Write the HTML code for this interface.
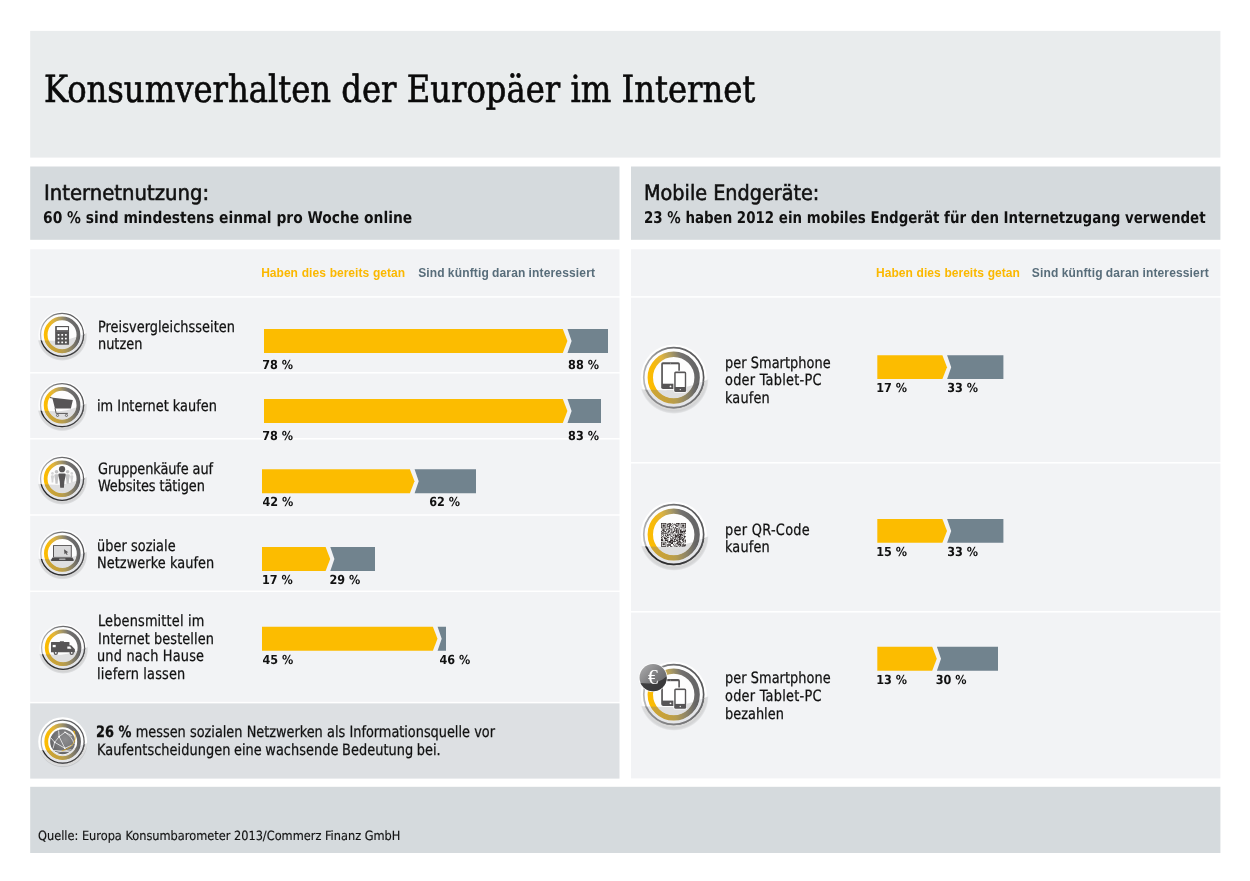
<!DOCTYPE html>
<html lang="de">
<head>
<meta charset="utf-8">
<title>Konsumverhalten der Europäer im Internet</title>
<style>
html,body{margin:0;padding:0;background:#fff}
body{width:1250px;height:881px;position:relative;overflow:hidden;font-family:"Liberation Sans", sans-serif}
.t{position:absolute;white-space:nowrap;line-height:40px;height:40px;margin:0;transform-origin:0 0;text-rendering:geometricPrecision}
.dsc{font-family:"DejaVu Sans Condensed","DejaVu Sans",sans-serif;font-stretch:condensed}
.dse{font-family:"DejaVu Serif Condensed","DejaVu Serif",serif;font-stretch:condensed}
.ser{font-family:"Liberation Serif", serif}
.h{text-rendering:auto}
svg{position:absolute;left:0;top:0}
</style>
</head>
<body>
<svg width="1250" height="881" viewBox="0 0 1250 881" >
<rect x="30.2" y="30.9" width="1190.2" height="126.7" fill="#e9eced"/>
<rect x="30.2" y="166.5" width="589.3" height="73.3" fill="#d5dadd"/>
<rect x="631.0" y="166.5" width="589.4" height="73.3" fill="#d5dadd"/>
<rect x="30.2" y="249.3" width="589.3" height="46.85" fill="#f2f3f5"/>
<rect x="30.2" y="297.65" width="589.3" height="74.4" fill="#f2f3f5"/>
<rect x="30.2" y="373.55" width="589.3" height="64.5" fill="#f2f3f5"/>
<rect x="30.2" y="439.55" width="589.3" height="74.7" fill="#f2f3f5"/>
<rect x="30.2" y="515.75" width="589.3" height="74.8" fill="#f2f3f5"/>
<rect x="30.2" y="592.05" width="589.3" height="109.8" fill="#f2f3f5"/>
<rect x="30.2" y="703.35" width="589.3" height="75.25" fill="#dde0e3"/>
<rect x="631.0" y="249.3" width="589.4" height="46.85" fill="#f2f3f5"/>
<rect x="631.0" y="297.65" width="589.4" height="164.4" fill="#f2f3f5"/>
<rect x="631.0" y="463.55" width="589.4" height="147.5" fill="#f2f3f5"/>
<rect x="631.0" y="612.55" width="589.4" height="165.85" fill="#f2f3f5"/>
<rect x="30.2" y="786.8" width="1190.2" height="66.2" fill="#d5dadd"/>
<path d="M567.5,329H608V352.9H567.5L571.6,340.95Z" fill="#71838e"/><path d="M264,329H562.8L567.4,340.95L562.8,352.9H264Z" fill="#fcbc00"/>
<path d="M567.5,399H601V422.9H567.5L571.6,410.95Z" fill="#71838e"/><path d="M264,399H562.8L567.4,410.95L562.8,422.9H264Z" fill="#fcbc00"/>
<path d="M414.6,469.2H476V493.3H414.6L418.7,481.25Z" fill="#71838e"/><path d="M262,469.2H409.9L414.5,481.25L409.9,493.3H262Z" fill="#fcbc00"/>
<path d="M330.3,547.1H375V570.9H330.3L334.4,559Z" fill="#71838e"/><path d="M262,547.1H325.6L330.2,559L325.6,570.9H262Z" fill="#fcbc00"/>
<path d="M437.6,626.8H446V650.8H437.6L441.7,638.8Z" fill="#71838e"/><path d="M262,626.8H432.9L437.5,638.8L432.9,650.8H262Z" fill="#fcbc00"/>
<path d="M947.1,355.3H1003.4V379H947.1L951.2,367.15Z" fill="#71838e"/><path d="M877.3,355.3H942.4L947,367.15L942.4,379H877.3Z" fill="#fcbc00"/>
<path d="M947.1,519H1003.4V542.8H947.1L951.2,530.9Z" fill="#71838e"/><path d="M877.3,519H942.4L947,530.9L942.4,542.8H877.3Z" fill="#fcbc00"/>
<path d="M936.9,646.7H998V670.7H936.9L941,658.7Z" fill="#71838e"/><path d="M877.3,646.7H932.2L936.8,658.7L932.2,670.7H877.3Z" fill="#fcbc00"/>
<defs>
<linearGradient id="gR" gradientUnits="userSpaceOnUse" x1="-18" y1="5" x2="16" y2="-5">
<stop offset="0" stop-color="#fdbc00"/><stop offset="0.2" stop-color="#f8ba08"/><stop offset="0.4" stop-color="#e0b43c"/><stop offset="0.6" stop-color="#ad9c62"/><stop offset="0.8" stop-color="#747270"/><stop offset="1" stop-color="#666667"/>
</linearGradient>
<linearGradient id="gT" gradientUnits="userSpaceOnUse" x1="-20" y1="6" x2="20" y2="-6">
<stop offset="0" stop-color="#b4b5b6"/><stop offset="0.3" stop-color="#949596"/><stop offset="0.6" stop-color="#707072"/><stop offset="1" stop-color="#58585a"/>
</linearGradient>
<linearGradient id="gL" gradientUnits="userSpaceOnUse" x1="-18" y1="0" x2="18" y2="0">
<stop offset="0" stop-color="#cda533"/><stop offset="0.35" stop-color="#c6a13b"/><stop offset="0.55" stop-color="#b59c50"/><stop offset="0.75" stop-color="#8e8567"/><stop offset="0.92" stop-color="#6a6968"/><stop offset="1" stop-color="#5e5e5f"/>
</linearGradient>
<radialGradient id="gS" gradientUnits="userSpaceOnUse" cx="0.2" cy="1.1" r="25">
<stop offset="0" stop-color="#000" stop-opacity="0.15"/><stop offset="0.9" stop-color="#000" stop-opacity="0.15"/><stop offset="0.96" stop-color="#000" stop-opacity="0.09"/><stop offset="1" stop-color="#000" stop-opacity="0"/>
</radialGradient>
<linearGradient id="gM" gradientUnits="userSpaceOnUse" x1="-20" y1="0" x2="20" y2="0">
<stop offset="0" stop-color="#8c8c8e"/><stop offset="0.6" stop-color="#7c7c7e"/><stop offset="1" stop-color="#6a6a6c"/>
</linearGradient>
<linearGradient id="gD" gradientUnits="userSpaceOnUse" x1="-20" y1="0" x2="20" y2="0">
<stop offset="0" stop-color="#262628"/><stop offset="0.6" stop-color="#333335"/><stop offset="1" stop-color="#4c4c4e"/>
</linearGradient>
<radialGradient id="gG" cx="0.6" cy="0.4" r="0.7">
<stop offset="0" stop-color="#8d8d8f"/><stop offset="0.5" stop-color="#7a7a7c"/><stop offset="1" stop-color="#5e5e60"/>
</radialGradient>
<linearGradient id="gE" x1="0" y1="0" x2="1" y2="1">
<stop offset="0" stop-color="#b0b0b1"/><stop offset="0.5" stop-color="#7d7d7f"/><stop offset="1" stop-color="#58585a"/>
</linearGradient>
<clipPath id="cS"><circle cx="0.2" cy="1" r="24.6"/></clipPath>
<clipPath id="cE"><circle cx="0" cy="0" r="13.6"/></clipPath>
<clipPath id="w0"><path d="M-27,5.3 L-6,6.0 C4,6.0 11,3.6 27,-2.5 L27,30 L-27,30 Z"/></clipPath><clipPath id="w10"><path d="M-27,6.3 L-6,7.0 C4,7.0 11,4.6 27,-1.5 L27,30 L-27,30 Z"/></clipPath><clipPath id="w30"><path d="M-27,8.3 L-6,9.0 C4,9.0 11,6.6 27,0.5 L27,30 L-27,30 Z"/></clipPath>
</defs>
<g transform="translate(62.05,334.85)">
<g transform="scale(1.0000)">
<circle r="23.7" fill="#fff" opacity="0.75"/>
<g clip-path="url(#w0)"><circle cx="0.2" cy="1.1" r="25" fill="url(#gS)"/></g>
<circle r="21.8" fill="#fdfdfd"/>
<circle r="16.4" fill="none" stroke="url(#gR)" stroke-width="3.8"/>
<circle r="21.5" fill="none" stroke="url(#gT)" stroke-width="1.25"/>
<g clip-path="url(#w0)"><circle r="14.80" fill="#dfdfe0"/>
<circle r="19.90" fill="none" stroke="#e4e5e8" stroke-width="3.60"/>
<circle r="16.4" fill="none" stroke="url(#gL)" stroke-width="3.8"/>
<circle r="21.5" fill="none" stroke="url(#gD)" stroke-width="1.3"/></g>
</g>
<rect x="-6.9" y="-8.9" width="13.9" height="18.9" rx="0.6" fill="#575556"/><rect x="-5.2" y="-7.7" width="11.1" height="3" fill="#fff"/><rect x="-6.9" y="-3.9" width="13.9" height="0.7" fill="#6e6c6d"/><rect x="-4.40" y="-0.90" width="1.8" height="1.8" rx="0.4" fill="#fff"/><rect x="-0.75" y="-0.90" width="1.8" height="1.8" rx="0.4" fill="#fff"/><rect x="2.90" y="-0.90" width="1.8" height="1.8" rx="0.4" fill="#fff"/><rect x="-4.40" y="2.85" width="1.8" height="1.8" rx="0.4" fill="#fff"/><rect x="-0.75" y="2.85" width="1.8" height="1.8" rx="0.4" fill="#fff"/><rect x="2.90" y="2.85" width="1.8" height="1.8" rx="0.4" fill="#fff"/><rect x="-4.40" y="6.60" width="1.8" height="1.8" rx="0.4" fill="#fff"/><rect x="-0.75" y="6.60" width="1.8" height="1.8" rx="0.4" fill="#fff"/><rect x="2.90" y="6.60" width="1.8" height="1.8" rx="0.4" fill="#fff"/>
</g>
<g transform="translate(62.05,405.2)">
<g transform="scale(1.0000)">
<circle r="23.7" fill="#fff" opacity="0.75"/>
<g clip-path="url(#w0)"><circle cx="0.2" cy="1.1" r="25" fill="url(#gS)"/></g>
<circle r="21.8" fill="#fdfdfd"/>
<circle r="16.4" fill="none" stroke="url(#gR)" stroke-width="3.8"/>
<circle r="21.5" fill="none" stroke="url(#gT)" stroke-width="1.25"/>
<g clip-path="url(#w0)"><circle r="14.80" fill="#dfdfe0"/>
<circle r="19.90" fill="none" stroke="#e4e5e8" stroke-width="3.60"/>
<circle r="16.4" fill="none" stroke="url(#gL)" stroke-width="3.8"/>
<circle r="21.5" fill="none" stroke="url(#gD)" stroke-width="1.3"/></g>
</g>
<path d="M-12,-8.2 L-9,-7.5 L10.8,-5.1 L8.8,3.2 L-7.1,3.2 L-9.6,-6.6 L-12.2,-7.2 Z" fill="#575556"/><path d="M-7.0,3.0 L-5.9,8.2 L5.8,8.2" fill="none" stroke="#575556" stroke-width="1"/><circle cx="-4.5" cy="10.2" r="1.1" fill="none" stroke="#575556" stroke-width="0.8"/><circle cx="4.4" cy="10.2" r="1.1" fill="none" stroke="#575556" stroke-width="0.8"/>
</g>
<g transform="translate(62.05,478.8)">
<g transform="scale(1.0000)">
<circle r="23.7" fill="#fff" opacity="0.75"/>
<g clip-path="url(#w0)"><circle cx="0.2" cy="1.1" r="25" fill="url(#gS)"/></g>
<circle r="21.8" fill="#fdfdfd"/>
<circle r="16.4" fill="none" stroke="url(#gR)" stroke-width="3.8"/>
<circle r="21.5" fill="none" stroke="url(#gT)" stroke-width="1.25"/>
<g clip-path="url(#w0)"><circle r="14.80" fill="#dfdfe0"/>
<circle r="19.90" fill="none" stroke="#e4e5e8" stroke-width="3.60"/>
<circle r="16.4" fill="none" stroke="url(#gL)" stroke-width="3.8"/>
<circle r="21.5" fill="none" stroke="url(#gD)" stroke-width="1.3"/></g>
</g>
<circle cx="-9.6" cy="-5.4" r="1.3" fill="#d4d4d5"/><path d="M-11.2,-2.4000000000000004 Q-11.2,-3.6 -10.0,-3.6 L-9.2,-3.6 Q-8.0,-3.6 -8.0,-2.4000000000000004 L-8.608,1.0 L-8.799999999999999,3.6 L-10.4,3.6 L-10.591999999999999,1.0 Z" fill="#d4d4d5"/><circle cx="9.7" cy="-5.4" r="1.3" fill="#d4d4d5"/><path d="M8.1,-2.4000000000000004 Q8.1,-3.6 9.299999999999999,-3.6 L10.1,-3.6 Q11.299999999999999,-3.6 11.299999999999999,-2.4000000000000004 L10.692,1.0 L10.5,3.6 L8.899999999999999,3.6 L8.707999999999998,1.0 Z" fill="#d4d4d5"/><circle cx="-5.5" cy="-7.0" r="1.8" fill="#c4c4c5"/><path d="M-7.7,-3.3999999999999995 Q-7.7,-4.6 -6.5,-4.6 L-4.5,-4.6 Q-3.3,-4.6 -3.3,-3.3999999999999995 L-4.136,1.2000000000000002 L-4.4,5.0 L-6.6,5.0 L-6.864,1.2000000000000002 Z" fill="#c4c4c5"/><circle cx="5.6" cy="-7.0" r="1.8" fill="#c4c4c5"/><path d="M3.3999999999999995,-3.3999999999999995 Q3.3999999999999995,-4.6 4.6,-4.6 L6.6,-4.6 Q7.8,-4.6 7.8,-3.3999999999999995 L6.9639999999999995,1.2000000000000002 L6.699999999999999,5.0 L4.5,5.0 L4.236,1.2000000000000002 Z" fill="#c4c4c5"/><circle cx="0" cy="-9.6" r="3.1" fill="#575556"/><path d="M-3.7,-4.0 Q-3.7,-5.2 -2.5,-5.2 L2.5,-5.2 Q3.7,-5.2 3.7,-4.0 L2.294,2.85 L1.85,8.9 L-1.85,8.9 L-2.294,2.85 Z" fill="#575556"/>
</g>
<g transform="translate(62.3,553.5)">
<g transform="scale(1.0000)">
<circle r="23.7" fill="#fff" opacity="0.75"/>
<g clip-path="url(#w0)"><circle cx="0.2" cy="1.1" r="25" fill="url(#gS)"/></g>
<circle r="21.8" fill="#fdfdfd"/>
<circle r="16.4" fill="none" stroke="url(#gR)" stroke-width="3.8"/>
<circle r="21.5" fill="none" stroke="url(#gT)" stroke-width="1.25"/>
<g clip-path="url(#w0)"><circle r="14.80" fill="#dfdfe0"/>
<circle r="19.90" fill="none" stroke="#e4e5e8" stroke-width="3.60"/>
<circle r="16.4" fill="none" stroke="url(#gL)" stroke-width="3.8"/>
<circle r="21.5" fill="none" stroke="url(#gD)" stroke-width="1.3"/></g>
</g>
<rect x="-9.3" y="-8.5" width="18.8" height="12.6" rx="0.5" fill="#575556"/><rect x="-8.3" y="-7.6" width="16.8" height="11" fill="#d9d9da"/><path d="M-9.8,4.1 L10.0,4.1 L11.6,6.6 Q11.6,7.5 10.6,7.5 L-10.4,7.5 Q-11.4,7.5 -11.4,6.6 Z" fill="#4d4b4c"/><rect x="-3.2" y="5.0" width="6.4" height="1.4" rx="0.5" fill="#a9a9aa"/><path d="M1.7,-4.2 L6.0,-1.2 L4.2,-0.8 L5.4,1.0 L4.5,1.5 L3.4,-0.3 L2.2,0.8 Z" fill="#575556"/>
</g>
<g transform="translate(63.1,647.8)">
<g transform="scale(1.0000)">
<circle r="23.7" fill="#fff" opacity="0.75"/>
<g clip-path="url(#w10)"><circle cx="0.2" cy="1.1" r="25" fill="url(#gS)"/></g>
<circle r="21.8" fill="#fdfdfd"/>
<circle r="16.4" fill="none" stroke="url(#gR)" stroke-width="3.8"/>
<circle r="21.5" fill="none" stroke="url(#gT)" stroke-width="1.25"/>
<g clip-path="url(#w10)"><circle r="14.80" fill="#dfdfe0"/>
<circle r="19.90" fill="none" stroke="#e4e5e8" stroke-width="3.60"/>
<circle r="16.4" fill="none" stroke="url(#gL)" stroke-width="3.8"/>
<circle r="21.5" fill="none" stroke="url(#gD)" stroke-width="1.3"/></g>
</g>
<path d="M-12.1,-5.2 Q-12.1,-5.8 -11.5,-5.8 L-3.4,-5.8 L-3.0,-6.6 L0.6,-6.6 L1.0,-5.8 L5.8,-5.8 Q6.4,-5.8 6.4,-5.2 L6.4,-2.6 L8.0,-2.6 L11.8,1.4 L11.8,4.4 L-12.1,4.4 Z" fill="#575556"/><rect x="-10.4" y="-2.9" width="3.0" height="2.3" fill="#fff"/><path d="M4.2,-1.3 L7.0,-1.3 L8.4,0.9 L4.2,0.9 Z" fill="#fff"/><circle cx="-7.3" cy="5.0" r="2.2" fill="#575556"/><circle cx="-7.3" cy="5.0" r="0.9" fill="#fff"/><circle cx="8.6" cy="5.0" r="2.2" fill="#575556"/><circle cx="8.6" cy="5.0" r="0.9" fill="#fff"/>
</g>
<g transform="translate(62.65,741.65)">
<g transform="scale(1.0000)">
<circle r="24.4" fill="#fff" opacity="1.0"/>
<g clip-path="url(#w30)"><circle cx="0.2" cy="1.1" r="25" fill="url(#gS)"/></g>
<circle r="21.8" fill="#fdfdfd"/>
<circle r="16.4" fill="none" stroke="url(#gR)" stroke-width="3.8"/>
<circle r="21.5" fill="none" stroke="url(#gT)" stroke-width="1.25"/>
<g clip-path="url(#w30)"><circle r="14.80" fill="#dfdfe0"/>
<circle r="19.90" fill="none" stroke="#e4e5e8" stroke-width="3.60"/>
<circle r="16.4" fill="none" stroke="url(#gL)" stroke-width="3.8"/>
<circle r="21.5" fill="none" stroke="url(#gD)" stroke-width="1.3"/></g>
</g>
<circle r="13.2" fill="#fff"/><circle r="12.5" fill="url(#gG)"/><g fill="none" stroke="#fff" stroke-width="0.75" stroke-linecap="round" opacity="0.95"><path d="M-4.0,-10.8 L-3.5,-5.0 L-8.0,0.6 L-9.5,6.5"/><path d="M-3.5,-5.0 L2.4,-9.4 L8.8,-6.0"/><path d="M-3.5,-5.0 L2.2,6.6 L-8.0,0.6 L-11.5,-3.5"/><path d="M2.2,6.6 L9.5,3.5"/><path d="M-8.5,8.8 Q0,10.5 8.5,8.2"/><path d="M-6.5,10.6 Q1,8.6 7.0,10.0"/><path d="M2.4,-9.4 Q9.5,-5 11.5,2"/></g><g fill="#fff"><circle cx="-3.5" cy="-5.0" r="0.8"/><circle cx="-8.0" cy="0.6" r="0.8"/><circle cx="2.2" cy="6.6" r="0.8"/><circle cx="2.4" cy="-9.4" r="0.7"/></g><path d="M11.2,-10.6 Q15.5,-2 8.0,4.8 Q4.5,8 -1.0,9.4" fill="none" stroke="#e3ae1c" stroke-width="0.7"/><path d="M10.6,-11.4 L12.4,-10.2 L11.6,-8.2 Z" fill="#f0b400"/>
</g>
<g transform="translate(673.7,377.6)">
<g transform="scale(1.3932)">
<circle r="23.7" fill="#fff" opacity="0.9"/>
<g clip-path="url(#w30)"><circle cx="0.2" cy="1.1" r="25" fill="url(#gS)"/></g>
<circle r="21.8" fill="#fdfdfd"/>
<circle r="16.8" fill="none" stroke="url(#gR)" stroke-width="3.9"/>
<circle r="21.5" fill="none" stroke="url(#gT)" stroke-width="1.2"/>
<g clip-path="url(#w30)"><circle r="15.15" fill="#dfdfe0"/>
<circle r="20.12" fill="none" stroke="#e4e5e8" stroke-width="3.15"/>
<circle r="16.8" fill="none" stroke="url(#gL)" stroke-width="3.9"/>
<circle r="21.5" fill="none" stroke="url(#gM)" stroke-width="1.25"/></g>
</g>
<rect x="-12.5" y="-15.4" width="18.7" height="26.8" rx="1.8" fill="#575556"/><rect x="-10.8" y="-13.3" width="15.4" height="19.4" fill="#fff"/><circle cx="-3.2" cy="8.8" r="0.9" fill="#fff"/><circle cx="-3.2" cy="-14.4" r="0.4" fill="#ddd"/><rect x="-0.3" y="-6.9" width="13.6" height="22" rx="2.2" fill="#fff"/><rect x="0.5" y="-6.1" width="12.0" height="20.4" rx="1.5" fill="#575556"/><rect x="2.0" y="-4.4" width="9.1" height="13.8" fill="#fff"/><circle cx="6.6" cy="12.0" r="0.7" fill="#e8e8e8"/>
</g>
<g transform="translate(673.7,534.5)">
<g transform="scale(1.3932)">
<circle r="23.7" fill="#fff" opacity="0.9"/>
<g clip-path="url(#w30)"><circle cx="0.2" cy="1.1" r="25" fill="url(#gS)"/></g>
<circle r="21.8" fill="#fdfdfd"/>
<circle r="16.8" fill="none" stroke="url(#gR)" stroke-width="3.9"/>
<circle r="21.5" fill="none" stroke="url(#gT)" stroke-width="1.2"/>
<g clip-path="url(#w30)"><circle r="15.15" fill="#dfdfe0"/>
<circle r="20.12" fill="none" stroke="#e4e5e8" stroke-width="3.15"/>
<circle r="16.8" fill="none" stroke="url(#gL)" stroke-width="3.9"/>
<circle r="21.5" fill="none" stroke="url(#gD)" stroke-width="1.25"/></g>
</g>
<path d="M-12.68,-11.40h5.28v0.72h-5.28zM-5.13,-11.40h2.26v0.72h-2.26zM-1.36,-11.40h0.75v0.72h-0.75zM2.41,-11.40h3.77v0.72h-3.77zM6.94,-11.40h5.28v0.72h-5.28zM-12.68,-10.68h0.75v0.72h-0.75zM-8.15,-10.68h0.75v0.72h-0.75zM-6.64,-10.68h2.26v0.72h-2.26zM-3.63,-10.68h0.75v0.72h-0.75zM-2.12,-10.68h0.75v0.72h-0.75zM0.15,-10.68h1.51v0.72h-1.51zM2.41,-10.68h0.75v0.72h-0.75zM3.92,-10.68h1.51v0.72h-1.51zM6.94,-10.68h0.75v0.72h-0.75zM11.47,-10.68h0.75v0.72h-0.75zM-12.68,-9.96h0.75v0.72h-0.75zM-11.17,-9.96h2.26v0.72h-2.26zM-8.15,-9.96h0.75v0.72h-0.75zM-6.64,-9.96h0.75v0.72h-0.75zM-5.13,-9.96h3.02v0.72h-3.02zM-0.61,-9.96h0.75v0.72h-0.75zM0.90,-9.96h1.51v0.72h-1.51zM3.92,-9.96h0.75v0.72h-0.75zM5.43,-9.96h0.75v0.72h-0.75zM6.94,-9.96h0.75v0.72h-0.75zM8.45,-9.96h2.26v0.72h-2.26zM11.47,-9.96h0.75v0.72h-0.75zM-12.68,-9.25h0.75v0.72h-0.75zM-11.17,-9.25h2.26v0.72h-2.26zM-8.15,-9.25h0.75v0.72h-0.75zM-6.64,-9.25h0.75v0.72h-0.75zM-4.38,-9.25h1.51v0.72h-1.51zM-1.36,-9.25h0.75v0.72h-0.75zM1.66,-9.25h2.26v0.72h-2.26zM4.67,-9.25h0.75v0.72h-0.75zM6.94,-9.25h0.75v0.72h-0.75zM8.45,-9.25h2.26v0.72h-2.26zM11.47,-9.25h0.75v0.72h-0.75zM-12.68,-8.53h0.75v0.72h-0.75zM-11.17,-8.53h2.26v0.72h-2.26zM-8.15,-8.53h0.75v0.72h-0.75zM-6.64,-8.53h3.02v0.72h-3.02zM-2.87,-8.53h1.51v0.72h-1.51zM2.41,-8.53h2.26v0.72h-2.26zM6.94,-8.53h0.75v0.72h-0.75zM8.45,-8.53h2.26v0.72h-2.26zM11.47,-8.53h0.75v0.72h-0.75zM-12.68,-7.81h0.75v0.72h-0.75zM-8.15,-7.81h0.75v0.72h-0.75zM-4.38,-7.81h0.75v0.72h-0.75zM-0.61,-7.81h0.75v0.72h-0.75zM1.66,-7.81h0.75v0.72h-0.75zM5.43,-7.81h0.75v0.72h-0.75zM6.94,-7.81h0.75v0.72h-0.75zM11.47,-7.81h0.75v0.72h-0.75zM-12.68,-7.09h5.28v0.72h-5.28zM-6.64,-7.09h0.75v0.72h-0.75zM-5.13,-7.09h1.51v0.72h-1.51zM-2.12,-7.09h0.75v0.72h-0.75zM-0.61,-7.09h0.75v0.72h-0.75zM0.90,-7.09h1.51v0.72h-1.51zM4.67,-7.09h0.75v0.72h-0.75zM6.94,-7.09h5.28v0.72h-5.28zM-5.13,-6.37h2.26v0.72h-2.26zM-2.12,-6.37h0.75v0.72h-0.75zM0.15,-6.37h0.75v0.72h-0.75zM1.66,-6.37h3.02v0.72h-3.02zM5.43,-6.37h0.75v0.72h-0.75zM-11.93,-5.65h3.77v0.72h-3.77zM-7.40,-5.65h2.26v0.72h-2.26zM-4.38,-5.65h0.75v0.72h-0.75zM-2.12,-5.65h0.75v0.72h-0.75zM0.15,-5.65h0.75v0.72h-0.75zM2.41,-5.65h1.51v0.72h-1.51zM5.43,-5.65h0.75v0.72h-0.75zM9.20,-5.65h0.75v0.72h-0.75zM10.71,-5.65h0.75v0.72h-0.75zM-10.42,-4.94h0.75v0.72h-0.75zM-7.40,-4.94h0.75v0.72h-0.75zM-5.89,-4.94h0.75v0.72h-0.75zM-3.63,-4.94h2.26v0.72h-2.26zM0.15,-4.94h1.51v0.72h-1.51zM2.41,-4.94h0.75v0.72h-0.75zM3.92,-4.94h1.51v0.72h-1.51zM6.18,-4.94h2.26v0.72h-2.26zM11.47,-4.94h0.75v0.72h-0.75zM-11.93,-4.22h3.02v0.72h-3.02zM-7.40,-4.22h0.75v0.72h-0.75zM-5.13,-4.22h1.51v0.72h-1.51zM-2.12,-4.22h0.75v0.72h-0.75zM0.15,-4.22h0.75v0.72h-0.75zM1.66,-4.22h2.26v0.72h-2.26zM4.67,-4.22h0.75v0.72h-0.75zM6.18,-4.22h1.51v0.72h-1.51zM9.20,-4.22h0.75v0.72h-0.75zM10.71,-4.22h1.51v0.72h-1.51zM-12.68,-3.50h0.75v0.72h-0.75zM-10.42,-3.50h3.02v0.72h-3.02zM-5.89,-3.50h2.26v0.72h-2.26zM-2.12,-3.50h0.75v0.72h-0.75zM-0.61,-3.50h2.26v0.72h-2.26zM2.41,-3.50h1.51v0.72h-1.51zM4.67,-3.50h0.75v0.72h-0.75zM6.18,-3.50h6.04v0.72h-6.04zM-12.68,-2.78h2.26v0.72h-2.26zM-8.91,-2.78h0.75v0.72h-0.75zM-5.89,-2.78h0.75v0.72h-0.75zM-2.87,-2.78h1.51v0.72h-1.51zM-0.61,-2.78h0.75v0.72h-0.75zM1.66,-2.78h1.51v0.72h-1.51zM3.92,-2.78h1.51v0.72h-1.51zM6.18,-2.78h0.75v0.72h-0.75zM7.69,-2.78h1.51v0.72h-1.51zM9.96,-2.78h1.51v0.72h-1.51zM-11.17,-2.06h1.51v0.72h-1.51zM-8.91,-2.06h0.75v0.72h-0.75zM-7.40,-2.06h3.02v0.72h-3.02zM-3.63,-2.06h0.75v0.72h-0.75zM-2.12,-2.06h2.26v0.72h-2.26zM2.41,-2.06h1.51v0.72h-1.51zM4.67,-2.06h0.75v0.72h-0.75zM6.18,-2.06h3.02v0.72h-3.02zM9.96,-2.06h0.75v0.72h-0.75zM-12.68,-1.35h1.51v0.72h-1.51zM-10.42,-1.35h3.77v0.72h-3.77zM-2.87,-1.35h0.75v0.72h-0.75zM-1.36,-1.35h0.75v0.72h-0.75zM0.90,-1.35h0.75v0.72h-0.75zM4.67,-1.35h0.75v0.72h-0.75zM9.20,-1.35h0.75v0.72h-0.75zM10.71,-1.35h1.51v0.72h-1.51zM-12.68,-0.63h2.26v0.72h-2.26zM-8.91,-0.63h0.75v0.72h-0.75zM-6.64,-0.63h0.75v0.72h-0.75zM-4.38,-0.63h1.51v0.72h-1.51zM0.90,-0.63h0.75v0.72h-0.75zM3.17,-0.63h5.28v0.72h-5.28zM9.96,-0.63h0.75v0.72h-0.75zM-10.42,0.09h0.75v0.72h-0.75zM-8.15,0.09h0.75v0.72h-0.75zM-6.64,0.09h3.02v0.72h-3.02zM-2.87,0.09h0.75v0.72h-0.75zM-1.36,0.09h1.51v0.72h-1.51zM0.90,0.09h1.51v0.72h-1.51zM3.92,0.09h0.75v0.72h-0.75zM5.43,0.09h3.77v0.72h-3.77zM9.96,0.09h0.75v0.72h-0.75zM-12.68,0.81h0.75v0.72h-0.75zM-10.42,0.81h0.75v0.72h-0.75zM-8.91,0.81h1.51v0.72h-1.51zM-6.64,0.81h1.51v0.72h-1.51zM-3.63,0.81h0.75v0.72h-0.75zM-0.61,0.81h0.75v0.72h-0.75zM0.90,0.81h4.53v0.72h-4.53zM6.18,0.81h1.51v0.72h-1.51zM8.45,0.81h0.75v0.72h-0.75zM9.96,0.81h0.75v0.72h-0.75zM-11.93,1.53h1.51v0.72h-1.51zM-8.15,1.53h1.51v0.72h-1.51zM-2.87,1.53h1.51v0.72h-1.51zM0.90,1.53h3.02v0.72h-3.02zM4.67,1.53h3.02v0.72h-3.02zM9.96,1.53h2.26v0.72h-2.26zM-12.68,2.25h0.75v0.72h-0.75zM-10.42,2.25h1.51v0.72h-1.51zM-6.64,2.25h2.26v0.72h-2.26zM-3.63,2.25h0.75v0.72h-0.75zM-1.36,2.25h1.51v0.72h-1.51zM1.66,2.25h2.26v0.72h-2.26zM4.67,2.25h1.51v0.72h-1.51zM6.94,2.25h0.75v0.72h-0.75zM8.45,2.25h0.75v0.72h-0.75zM9.96,2.25h1.51v0.72h-1.51zM-12.68,2.96h1.51v0.72h-1.51zM-9.66,2.96h2.26v0.72h-2.26zM-6.64,2.96h1.51v0.72h-1.51zM-1.36,2.96h0.75v0.72h-0.75zM0.15,2.96h2.26v0.72h-2.26zM3.92,2.96h5.28v0.72h-5.28zM10.71,2.96h0.75v0.72h-0.75zM-11.93,3.68h0.75v0.72h-0.75zM-9.66,3.68h3.02v0.72h-3.02zM-3.63,3.68h1.51v0.72h-1.51zM-1.36,3.68h1.51v0.72h-1.51zM1.66,3.68h0.75v0.72h-0.75zM3.17,3.68h0.75v0.72h-0.75zM5.43,3.68h1.51v0.72h-1.51zM7.69,3.68h0.75v0.72h-0.75zM9.20,3.68h1.51v0.72h-1.51zM-12.68,4.40h1.51v0.72h-1.51zM-8.91,4.40h0.75v0.72h-0.75zM-2.12,4.40h0.75v0.72h-0.75zM0.15,4.40h2.26v0.72h-2.26zM3.92,4.40h3.77v0.72h-3.77zM8.45,4.40h2.26v0.72h-2.26zM-12.68,5.12h2.26v0.72h-2.26zM-8.91,5.12h3.77v0.72h-3.77zM-3.63,5.12h3.02v0.72h-3.02zM0.15,5.12h1.51v0.72h-1.51zM2.41,5.12h1.51v0.72h-1.51zM5.43,5.12h1.51v0.72h-1.51zM7.69,5.12h2.26v0.72h-2.26zM11.47,5.12h0.75v0.72h-0.75zM-12.68,5.84h2.26v0.72h-2.26zM-8.91,5.84h3.02v0.72h-3.02zM-3.63,5.84h3.02v0.72h-3.02zM0.15,5.84h0.75v0.72h-0.75zM2.41,5.84h2.26v0.72h-2.26zM5.43,5.84h0.75v0.72h-0.75zM8.45,5.84h1.51v0.72h-1.51zM10.71,5.84h1.51v0.72h-1.51zM-6.64,6.55h0.75v0.72h-0.75zM-5.13,6.55h3.02v0.72h-3.02zM-1.36,6.55h3.77v0.72h-3.77zM3.17,6.55h0.75v0.72h-0.75zM4.67,6.55h2.26v0.72h-2.26zM9.20,6.55h1.51v0.72h-1.51zM11.47,6.55h0.75v0.72h-0.75zM-12.68,7.27h5.28v0.72h-5.28zM-6.64,7.27h3.77v0.72h-3.77zM-2.12,7.27h1.51v0.72h-1.51zM0.15,7.27h0.75v0.72h-0.75zM3.17,7.27h0.75v0.72h-0.75zM4.67,7.27h2.26v0.72h-2.26zM8.45,7.27h1.51v0.72h-1.51zM11.47,7.27h0.75v0.72h-0.75zM-12.68,7.99h0.75v0.72h-0.75zM-8.15,7.99h0.75v0.72h-0.75zM-4.38,7.99h3.77v0.72h-3.77zM3.17,7.99h2.26v0.72h-2.26zM6.18,7.99h2.26v0.72h-2.26zM10.71,7.99h0.75v0.72h-0.75zM-12.68,8.71h0.75v0.72h-0.75zM-11.17,8.71h2.26v0.72h-2.26zM-8.15,8.71h0.75v0.72h-0.75zM-5.13,8.71h0.75v0.72h-0.75zM-2.87,8.71h2.26v0.72h-2.26zM0.90,8.71h0.75v0.72h-0.75zM2.41,8.71h2.26v0.72h-2.26zM5.43,8.71h0.75v0.72h-0.75zM6.94,8.71h0.75v0.72h-0.75zM9.20,8.71h0.75v0.72h-0.75zM-12.68,9.43h0.75v0.72h-0.75zM-11.17,9.43h2.26v0.72h-2.26zM-8.15,9.43h0.75v0.72h-0.75zM-6.64,9.43h3.77v0.72h-3.77zM-0.61,9.43h0.75v0.72h-0.75zM1.66,9.43h0.75v0.72h-0.75zM3.92,9.43h3.77v0.72h-3.77zM8.45,9.43h2.26v0.72h-2.26zM11.47,9.43h0.75v0.72h-0.75zM-12.68,10.15h0.75v0.72h-0.75zM-11.17,10.15h2.26v0.72h-2.26zM-8.15,10.15h0.75v0.72h-0.75zM-3.63,10.15h0.75v0.72h-0.75zM-0.61,10.15h1.51v0.72h-1.51zM2.41,10.15h2.26v0.72h-2.26zM5.43,10.15h1.51v0.72h-1.51zM10.71,10.15h0.75v0.72h-0.75zM-12.68,10.86h0.75v0.72h-0.75zM-8.15,10.86h0.75v0.72h-0.75zM-6.64,10.86h3.77v0.72h-3.77zM0.15,10.86h0.75v0.72h-0.75zM1.66,10.86h0.75v0.72h-0.75zM4.67,10.86h0.75v0.72h-0.75zM6.18,10.86h1.51v0.72h-1.51zM8.45,10.86h3.77v0.72h-3.77zM-12.68,11.58h5.28v0.72h-5.28zM-6.64,11.58h1.51v0.72h-1.51zM-3.63,11.58h2.26v0.72h-2.26zM0.15,11.58h0.75v0.72h-0.75zM1.66,11.58h2.26v0.72h-2.26zM5.43,11.58h0.75v0.72h-0.75zM6.94,11.58h0.75v0.72h-0.75zM8.45,11.58h1.51v0.72h-1.51zM10.71,11.58h0.75v0.72h-0.75z" fill="#2f2829"/>
</g>
<g transform="translate(673.7,694.5)">
<g transform="scale(1.3932)">
<circle r="23.7" fill="#fff" opacity="0.9"/>
<g clip-path="url(#w30)"><circle cx="0.2" cy="1.1" r="25" fill="url(#gS)"/></g>
<circle r="21.8" fill="#fdfdfd"/>
<circle r="16.8" fill="none" stroke="url(#gR)" stroke-width="3.9"/>
<circle r="21.5" fill="none" stroke="url(#gT)" stroke-width="1.2"/>
<g clip-path="url(#w30)"><circle r="15.15" fill="#dfdfe0"/>
<circle r="20.12" fill="none" stroke="#e4e5e8" stroke-width="3.15"/>
<circle r="16.8" fill="none" stroke="url(#gL)" stroke-width="3.9"/>
<circle r="21.5" fill="none" stroke="url(#gM)" stroke-width="1.25"/></g>
</g>
<rect x="-12.5" y="-15.4" width="18.7" height="26.8" rx="1.8" fill="#575556"/><rect x="-10.8" y="-13.3" width="15.4" height="19.4" fill="#fff"/><circle cx="-3.2" cy="8.8" r="0.9" fill="#fff"/><circle cx="-3.2" cy="-14.4" r="0.4" fill="#ddd"/><rect x="-0.3" y="-6.9" width="13.6" height="22" rx="2.2" fill="#fff"/><rect x="0.5" y="-6.1" width="12.0" height="20.4" rx="1.5" fill="#575556"/><rect x="2.0" y="-4.4" width="9.1" height="13.8" fill="#fff"/><circle cx="6.6" cy="12.0" r="0.7" fill="#e8e8e8"/><g transform="translate(-20.6,-16.8)"><circle r="14.4" fill="#fff" opacity="0.9"/><circle r="13.6" fill="url(#gE)"/><path clip-path="url(#cE)" d="M-14,5.2 L-4,5.8 C2,5.8 8,3.5 14,-1.5 L14,14 L-14,14 Z" fill="#2e2e30" opacity="0.8"/><text x="0" y="6.3" text-anchor="middle" font-family="'Liberation Serif', serif" font-size="20" fill="#fff">€</text></g>
</g>
</svg>
<div class="t dse" id="t0" style="left:43.83px;top:69.01px;font-size:37.4px;-webkit-text-stroke:0.6px #0a0a0a;color:#0a0a0a;transform:scaleX(0.9587)">Konsumverhalten der Europäer im Internet</div>
<div class="t dsc" id="t1" style="left:44.32px;top:173.01px;font-size:21.2px;-webkit-text-stroke:0.55px #111;color:#111;transform:scaleX(1.0314)">Internetnutzung:</div>
<div class="t dsc" id="t2" style="left:43.18px;top:198.01px;font-size:16.1px;font-weight:700;color:#111;transform:scaleX(0.9571)">60 % sind mindestens einmal pro Woche online</div>
<div class="t dsc" id="t3" style="left:644.24px;top:173.01px;font-size:21.2px;-webkit-text-stroke:0.55px #111;color:#111;transform:scaleX(1.0087)">Mobile Endgeräte:</div>
<div class="t dsc" id="t4" style="left:643.73px;top:198.01px;font-size:16.1px;font-weight:700;color:#111;transform:scaleX(0.9255)">23 % haben 2012 ein mobiles Endgerät für den Internetzugang verwendet</div>
<div class="t h" id="t5" style="left:261.20px;top:253.01px;font-size:12px;font-weight:700;color:#fbb800;letter-spacing:0.015px;word-spacing:0.467px">Haben dies bereits getan</div>
<div class="t h" id="t6" style="left:418.16px;top:253.01px;font-size:12px;font-weight:700;color:#586d7a;letter-spacing:0.157px;word-spacing:-0.424px">Sind künftig daran interessiert</div>
<div class="t h" id="t7" style="left:875.99px;top:253.01px;font-size:12px;font-weight:700;color:#fbb800;letter-spacing:0.031px;word-spacing:0.356px">Haben dies bereits getan</div>
<div class="t h" id="t8" style="left:1031.83px;top:253.01px;font-size:12px;font-weight:700;color:#586d7a;letter-spacing:0.140px;word-spacing:-0.234px">Sind künftig daran interessiert</div>
<div class="t dsc" id="t9" style="left:97.59px;top:307.01px;font-size:15.6px;-webkit-text-stroke:0.25px #111;color:#111;letter-spacing:0.043px;transform:scaleX(0.9200)">Preisvergleichsseiten</div>
<div class="t dsc" id="t10" style="left:97.66px;top:324.01px;font-size:15.6px;-webkit-text-stroke:0.25px #111;color:#111;letter-spacing:0.000px;transform:scaleX(0.9200)">nutzen</div>
<div class="t dsc" id="t11" style="left:97.06px;top:386.01px;font-size:15.6px;-webkit-text-stroke:0.25px #111;color:#111;letter-spacing:0.024px;transform:scaleX(0.9200)">im Internet kaufen</div>
<div class="t dsc" id="t12" style="left:97.71px;top:449.01px;font-size:15.6px;-webkit-text-stroke:0.25px #111;color:#111;letter-spacing:-0.111px;transform:scaleX(0.9200)">Gruppenkäufe auf</div>
<div class="t dsc" id="t13" style="left:98.36px;top:466.01px;font-size:15.6px;-webkit-text-stroke:0.25px #111;color:#111;letter-spacing:-0.089px;transform:scaleX(0.9200)">Websites tätigen</div>
<div class="t dsc" id="t14" style="left:97.21px;top:526.01px;font-size:15.6px;-webkit-text-stroke:0.25px #111;color:#111;letter-spacing:0.047px;transform:scaleX(0.9200)">über soziale</div>
<div class="t dsc" id="t15" style="left:96.99px;top:543.01px;font-size:15.6px;-webkit-text-stroke:0.25px #111;color:#111;letter-spacing:0.079px;transform:scaleX(0.9200)">Netzwerke kaufen</div>
<div class="t dsc" id="t16" style="left:98.13px;top:601.01px;font-size:15.6px;-webkit-text-stroke:0.25px #111;color:#111;letter-spacing:0.173px;transform:scaleX(0.9200)">Lebensmittel im</div>
<div class="t dsc" id="t17" style="left:98.12px;top:619.01px;font-size:15.6px;-webkit-text-stroke:0.25px #111;color:#111;letter-spacing:0.088px;transform:scaleX(0.9200)">Internet bestellen</div>
<div class="t dsc" id="t18" style="left:97.02px;top:636.01px;font-size:15.6px;-webkit-text-stroke:0.25px #111;color:#111;letter-spacing:0.200px;transform:scaleX(0.9200)">und nach Hause</div>
<div class="t dsc" id="t19" style="left:96.83px;top:654.01px;font-size:15.6px;-webkit-text-stroke:0.25px #111;color:#111;letter-spacing:0.186px;transform:scaleX(0.9200)">liefern lassen</div>
<div class="t dsc" id="t20" style="left:724.62px;top:343.01px;font-size:15.6px;-webkit-text-stroke:0.25px #111;color:#111;letter-spacing:0.061px;transform:scaleX(0.9200)">per Smartphone</div>
<div class="t dsc" id="t21" style="left:725.44px;top:360.01px;font-size:15.6px;-webkit-text-stroke:0.25px #111;color:#111;letter-spacing:0.287px;transform:scaleX(0.9200)">oder Tablet-PC</div>
<div class="t dsc" id="t22" style="left:724.82px;top:378.01px;font-size:15.6px;-webkit-text-stroke:0.25px #111;color:#111;letter-spacing:0.163px;transform:scaleX(0.9200)">kaufen</div>
<div class="t dsc" id="t23" style="left:724.82px;top:510.01px;font-size:15.6px;-webkit-text-stroke:0.25px #111;color:#111;letter-spacing:0.325px;transform:scaleX(0.9200)">per QR-Code</div>
<div class="t dsc" id="t24" style="left:724.82px;top:527.01px;font-size:15.6px;-webkit-text-stroke:0.25px #111;color:#111;letter-spacing:0.163px;transform:scaleX(0.9200)">kaufen</div>
<div class="t dsc" id="t25" style="left:724.62px;top:658.01px;font-size:15.6px;-webkit-text-stroke:0.25px #111;color:#111;letter-spacing:0.061px;transform:scaleX(0.9200)">per Smartphone</div>
<div class="t dsc" id="t26" style="left:724.82px;top:676.01px;font-size:15.6px;-webkit-text-stroke:0.25px #111;color:#111;letter-spacing:0.284px;transform:scaleX(0.9200)">oder Tablet-PC</div>
<div class="t dsc" id="t27" style="left:724.82px;top:694.01px;font-size:15.6px;-webkit-text-stroke:0.25px #111;color:#111;letter-spacing:0.022px;transform:scaleX(0.9200)">bezahlen</div>
<div class="t dsc" id="t28" style="left:96.36px;top:712.01px;font-size:15.6px;-webkit-text-stroke:0.25px #111;color:#111;letter-spacing:-0.024px;word-spacing:0.209px;transform:scaleX(0.9200)"><b>26 %</b> messen sozialen Netzwerken als Informationsquelle vor</div>
<div class="t dsc" id="t29" style="left:97.00px;top:730.01px;font-size:15.6px;-webkit-text-stroke:0.25px #111;color:#111;letter-spacing:0.062px;word-spacing:-0.752px;transform:scaleX(0.9200)">Kaufentscheidungen eine wachsende Bedeutung bei.</div>
<div class="t dsc" id="t30" style="left:37.63px;top:816.00px;font-size:12.7px;-webkit-text-stroke:0.15px #111;color:#111;transform:scaleX(0.9959)">Quelle: Europa Konsumbarometer 2013/Commerz Finanz GmbH</div>
<div class="t dsc" id="t31" style="left:262.25px;top:345.00px;font-size:12.5px;font-weight:700;color:#111">78 %</div>
<div class="t dsc" id="t32" style="left:568.11px;top:345.00px;font-size:12.5px;font-weight:700;color:#111">88 %</div>
<div class="t dsc" id="t33" style="left:262.25px;top:416.00px;font-size:12.5px;font-weight:700;color:#111">78 %</div>
<div class="t dsc" id="t34" style="left:568.11px;top:416.00px;font-size:12.5px;font-weight:700;color:#111">83 %</div>
<div class="t dsc" id="t35" style="left:262.49px;top:482.00px;font-size:12.5px;font-weight:700;color:#111">42 %</div>
<div class="t dsc" id="t36" style="left:429.26px;top:482.00px;font-size:12.5px;font-weight:700;color:#111">62 %</div>
<div class="t dsc" id="t37" style="left:262.05px;top:560.02px;font-size:12.5px;font-weight:700;color:#111">17 %</div>
<div class="t dsc" id="t38" style="left:329.40px;top:560.02px;font-size:12.5px;font-weight:700;color:#111">29 %</div>
<div class="t dsc" id="t39" style="left:262.49px;top:640.02px;font-size:12.5px;font-weight:700;color:#111">45 %</div>
<div class="t dsc" id="t40" style="left:439.49px;top:640.02px;font-size:12.5px;font-weight:700;color:#111">46 %</div>
<div class="t dsc" id="t41" style="left:876.23px;top:368.00px;font-size:12.5px;font-weight:700;color:#111">17 %</div>
<div class="t dsc" id="t42" style="left:947.21px;top:368.00px;font-size:12.5px;font-weight:700;color:#111">33 %</div>
<div class="t dsc" id="t43" style="left:876.23px;top:532.02px;font-size:12.5px;font-weight:700;color:#111">15 %</div>
<div class="t dsc" id="t44" style="left:947.21px;top:532.02px;font-size:12.5px;font-weight:700;color:#111">33 %</div>
<div class="t dsc" id="t45" style="left:876.23px;top:660.02px;font-size:12.5px;font-weight:700;color:#111">13 %</div>
<div class="t dsc" id="t46" style="left:935.65px;top:660.02px;font-size:12.5px;font-weight:700;color:#111">30 %</div>
</body>
</html>
